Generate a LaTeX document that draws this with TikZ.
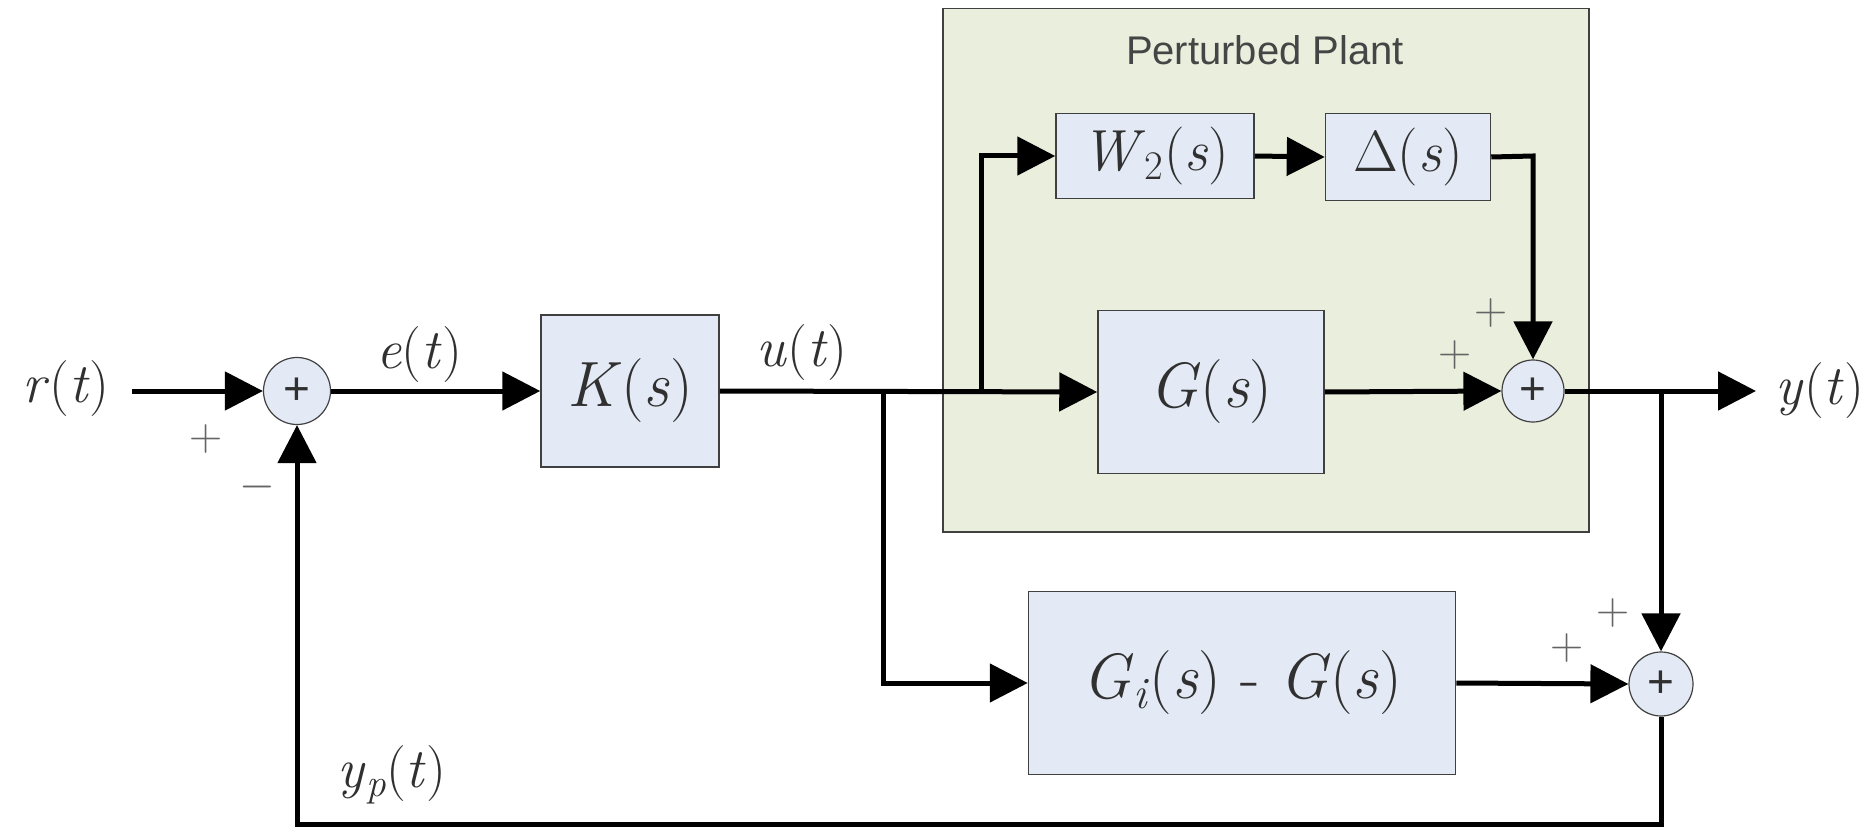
\RequirePackage{fix-cm}
\documentclass[tikz,border=0pt]{standalone}
\usepackage{fontspec}
\newfontfamily\sansf{Liberation Sans}
\usetikzlibrary{arrows.meta}
\definecolor{blockfill}{HTML}{E4EAF5}
\definecolor{plantfill}{HTML}{EAEEDC}
\definecolor{txt}{HTML}{303030}
\definecolor{edge}{HTML}{404040}
\newcommand{\mi}[1]{\textit{#1}}
\tikzset{
  blk/.style={draw=edge, line width=1.5pt, fill=blockfill, text=txt, inner sep=0pt,
              font=\fontsize{64}{70}\selectfont},
  sumnode/.style={circle, draw=edge, line width=1.2pt, fill=blockfill, inner sep=0pt,
              font=\sansf\fontsize{46}{48}\selectfont, text=txt},
  sig/.style={text=txt, font=\fontsize{56}{60}\selectfont, inner sep=0pt},
  sgn/.style={text=txt!75, font=\fontsize{46}{48}\selectfont, inner sep=0pt},
  wire/.style={line width=5pt, draw=black},
  arr/.style={wire, -{Triangle[length=38pt,width=38pt]}},
}
\begin{document}
\begin{tikzpicture}[x=1pt,y=-1pt]
\useasboundingbox (0,0) rectangle (1876,829);
% plant background
\node[draw=edge, line width=1.5pt, fill=plantfill, minimum width=646pt, minimum height=523pt, anchor=north west, inner sep=0pt] (plant) at (942,8) {};
\node[text=txt!90, font=\sansf\fontsize{40}{44}\selectfont, inner sep=0pt] (ptitle) at (1265,50) {Perturbed Plant};
% blocks
\node[sumnode, minimum size=67pt] (s1) at (297,391) {+};
\node[blk, minimum width=178pt, minimum height=152pt] (K) at (630,391) {\mi{K}(\mi{s})};
\node[blk, minimum width=226pt, minimum height=163pt] (G) at (1211,392) {\mi{G}(\mi{s})};
\node[blk, minimum width=198pt, minimum height=85pt, font=\fontsize{58}{60}\selectfont] (W) at (1155,156) {\mi{W}\textsubscript{2}(\mi{s})};
\node[blk, minimum width=165pt, minimum height=87pt, font=\fontsize{58}{60}\selectfont] (D) at (1408,157) {$\Delta$(\mi{s})};
\node[sumnode, minimum size=62pt] (s2) at (1533,391) {+};
\node[blk, minimum width=427pt, minimum height=183pt] (Gi) at (1242,683) {\mi{G}\textsubscript{\mi{i}}(\mi{s}) - \mi{G}(\mi{s})};
\node[sumnode, minimum size=64pt] (s3) at (1661,684) {+};
% signal labels
\node[sig] (rt) at (66,389) {\mi{r}(\mi{t})};
\node[sig] (et) at (419,355) {\mi{e}(\mi{t})};
\node[sig] (ut) at (802,353) {\mi{u}(\mi{t})};
\node[sig] (yt) at (1820,391) {\mi{y}(\mi{t})};
\node[sig] (ypt) at (392,775) {\mi{y}\textsubscript{\mi{p}}(\mi{t})};
% sign labels
\node[sgn] (p1) at (206,439) {+};
\node[sgn] (m1) at (257,487) {$-$};
\node[sgn] (p2a) at (1491,313) {+};
\node[sgn] (p2b) at (1455,355) {+};
\node[sgn] (p3a) at (1613,613) {+};
\node[sgn] (p3b) at (1567,648) {+};
% coordinates
\coordinate (rin) at (132,391);
\coordinate (bu) at (883,391);
\coordinate (bw) at (981,391);
\coordinate (bwu) at (981,156);
\coordinate (bud) at (883,683);
\coordinate (dr) at (1533,156);
\coordinate (yend) at (1756,391);
\coordinate (by) at (1661,391);
\coordinate (fb1) at (1661,824);
\coordinate (fb2) at (297,824);
% wires
\draw[arr] (rin) -- (s1.west);
\draw[arr] (s1.east) -- (K.west);
\draw[arr] (K.east) -- (G.west);
\draw[arr] (bw) -- (bwu) -- (W.west);
\draw[arr] (W.east) -- (D.west);
\draw[arr] (D.east) -- (dr) -- (s2.north);
\draw[arr] (G.east) -- (s2.west);
\draw[arr] (s2.east) -- (yend);
\draw[arr] (by) -- (s3.north);
\draw[arr] (bu) -- (bud) -- (Gi.west);
\draw[arr] (Gi.east) -- (s3.west);
\draw[arr] (s3.south) -- (fb1) -- (fb2) -- (s1.south);
\end{tikzpicture}
\end{document}
